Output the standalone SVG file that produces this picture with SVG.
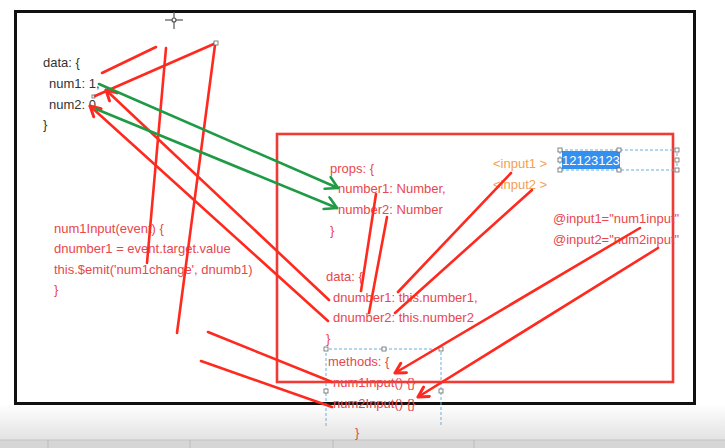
<svg xmlns="http://www.w3.org/2000/svg" width="725" height="448" viewBox="0 0 725 448">
<defs>
<linearGradient id="bg" x1="0" y1="0" x2="0" y2="1">
<stop offset="0" stop-color="#ffffff"/>
<stop offset="1" stop-color="#e2e2e2"/>
</linearGradient>
<marker id="ar" viewBox="0 0 14 14" refX="12" refY="7" markerWidth="14" markerHeight="14" markerUnits="userSpaceOnUse" orient="auto">
<path d="M2,1.5 L12,7 L2,12.5" fill="none" stroke="#ff2a1f" stroke-width="3" stroke-linecap="round" stroke-linejoin="round"/>
</marker>
<marker id="ag" viewBox="0 0 16 16" refX="14" refY="8" markerWidth="16" markerHeight="16" markerUnits="userSpaceOnUse" orient="auto">
<path d="M3,1 L14,8 L2,14" fill="none" stroke="#1f9a45" stroke-width="2.6" stroke-linecap="round" stroke-linejoin="round"/>
</marker>
</defs>
<style>
.t{font-family:"Liberation Sans","Noto Sans",Arial,sans-serif;font-size:13px}
.dk{fill:#333333}
.rd{fill:#e8474c}
.or{fill:#f3a052}
.rl{stroke:#ff2a1f;stroke-width:2.6;fill:none;stroke-linecap:round}
.gl{stroke:#1f9a45;stroke-width:2.6;fill:none;stroke-linecap:round}
.sel{stroke:#6aaee0;stroke-width:1;stroke-dasharray:3,2;fill:none}
.h{fill:#ffffff;stroke:#666666;stroke-width:0.8}
</style>
<rect x="0" y="0" width="725" height="448" fill="#ffffff"/>
<rect x="0" y="404" width="725" height="36" fill="url(#bg)"/>
<g id="statusbar">
<rect x="0" y="440" width="725" height="8" fill="#d6d6d6"/>
<line x1="0" y1="440" x2="725" y2="440" stroke="#c4c4c4" stroke-width="1"/>
<line x1="48" y1="440" x2="48" y2="448" stroke="#bbbbbb"/>
<line x1="190" y1="440" x2="190" y2="448" stroke="#bbbbbb"/>
<line x1="333" y1="440" x2="333" y2="448" stroke="#bbbbbb"/>
<line x1="474" y1="440" x2="474" y2="448" stroke="#bbbbbb"/>
</g>
<g id="frame">
<rect x="15.5" y="11.5" width="679" height="392" fill="none" stroke="#111111" stroke-width="3"/>
</g>
<g id="cursor" stroke="#555555" stroke-width="1.2">
<line x1="165" y1="20" x2="183" y2="20"/>
<line x1="174" y1="12" x2="174" y2="29"/>
<circle cx="174" cy="20" r="2" fill="#ffffff"/>
</g>
<g id="component-box">
<rect x="277" y="134" width="396" height="248" fill="none" stroke="#f03a35" stroke-width="2.6"/>
</g>
<g id="parent-data">
<text class="t dk" x="43" y="67">data: {</text>
<text class="t dk" x="49" y="88">num1: 1,</text>
<text class="t dk" x="49" y="109">num2: 0</text>
<text class="t dk" x="43" y="129">}</text>
</g>
<g id="parent-method">
<text class="t rd" x="54" y="233">num1Input(event) {</text>
<text class="t rd" x="54" y="253">dnumber1 = event.target.value</text>
<text class="t rd" x="54" y="274">this.$emit('num1change', dnumb1)</text>
<text class="t rd" x="54" y="294">}</text>
</g>
<g id="props">
<text class="t rd" x="330" y="173">props: {</text>
<text class="t rd" x="338" y="193">number1: Number,</text>
<text class="t rd" x="338" y="214">number2: Number</text>
<text class="t rd" x="330" y="235">}</text>
</g>
<g id="child-data">
<text class="t rd" x="326" y="281">data: {</text>
<text class="t rd" x="333" y="302">dnumber1: this.number1,</text>
<text class="t rd" x="333" y="322">dnumber2: this.number2</text>
<text class="t rd" x="326" y="343">}</text>
</g>
<g id="methods">
<path class="sel" d="M326,426 V349 H441 V426"/>
<rect class="h" x="324" y="347" width="4" height="4"/>
<rect class="h" x="382" y="347" width="4" height="4"/>
<rect class="h" x="439" y="347" width="4" height="4"/>
<rect class="h" x="324" y="389" width="4" height="4"/>
<rect class="h" x="439" y="389" width="4" height="4"/>
<text class="t rd" x="328" y="366">methods: {</text>
<text class="t rd" x="333" y="387">num1Input() {}</text>
<text class="t rd" x="333" y="408">num2Input() {}</text>
<text class="t rd" x="355" y="437">}</text>
</g>
<g id="inputs">
<text class="t or" x="493" y="168">&lt;input1 &gt;</text>
<text class="t or" x="493" y="189">&lt;input2 &gt;</text>
</g>
<g id="selected-value">
<rect class="sel" x="560" y="150" width="117" height="20"/>
<rect x="562" y="151" width="58" height="18" fill="#3390f0"/>
<text class="t" x="562" y="165" fill="#ffffff">12123123</text>
<rect class="h" x="558" y="148" width="4" height="4"/>
<rect class="h" x="617" y="148" width="4" height="4"/>
<rect class="h" x="675" y="148" width="4" height="4"/>
<rect class="h" x="558" y="158" width="4" height="4"/>
<rect class="h" x="675" y="158" width="4" height="4"/>
<rect class="h" x="558" y="168" width="4" height="4"/>
<rect class="h" x="617" y="168" width="4" height="4"/>
<rect class="h" x="675" y="168" width="4" height="4"/>
</g>
<g id="events">
<text class="t rd" x="553" y="223">@input1="num1input"</text>
<text class="t rd" x="553" y="244">@input2="num2input"</text>
</g>
<g id="connectors">
<line class="rl" x1="102" y1="73" x2="156" y2="47"/>
<line class="rl" x1="166" y1="48" x2="147" y2="263"/>
<line class="rl" x1="215" y1="45" x2="177" y2="333"/>
<line class="rl" x1="216" y1="43" x2="95" y2="96"/>
<rect class="h" x="214" y="41" width="4" height="4"/>
<rect x="92" y="95" width="3" height="3" fill="none" stroke="#666666" stroke-width="0.8"/>
<line class="rl" x1="329" y1="300" x2="106" y2="90" marker-end="url(#ar)"/>
<line class="rl" x1="328" y1="321" x2="90" y2="106" marker-end="url(#ar)"/>
<line class="gl" x1="99" y1="84" x2="338" y2="188" marker-end="url(#ag)"/>
<line class="gl" x1="96" y1="109" x2="337" y2="208" marker-end="url(#ag)"/>
<line class="rl" x1="376" y1="194" x2="361" y2="291"/>
<line class="rl" x1="387" y1="217" x2="369" y2="313"/>
<line class="rl" x1="511" y1="173" x2="398" y2="292"/>
<line class="rl" x1="532" y1="190" x2="395" y2="313"/>
<line class="rl" x1="640" y1="228" x2="395" y2="373" marker-end="url(#ar)"/>
<line class="rl" x1="658" y1="248" x2="418" y2="397" marker-end="url(#ar)"/>
<line class="rl" x1="208" y1="332" x2="332" y2="382"/>
<line class="rl" x1="201" y1="361" x2="332" y2="407"/>
</g>
</svg>
